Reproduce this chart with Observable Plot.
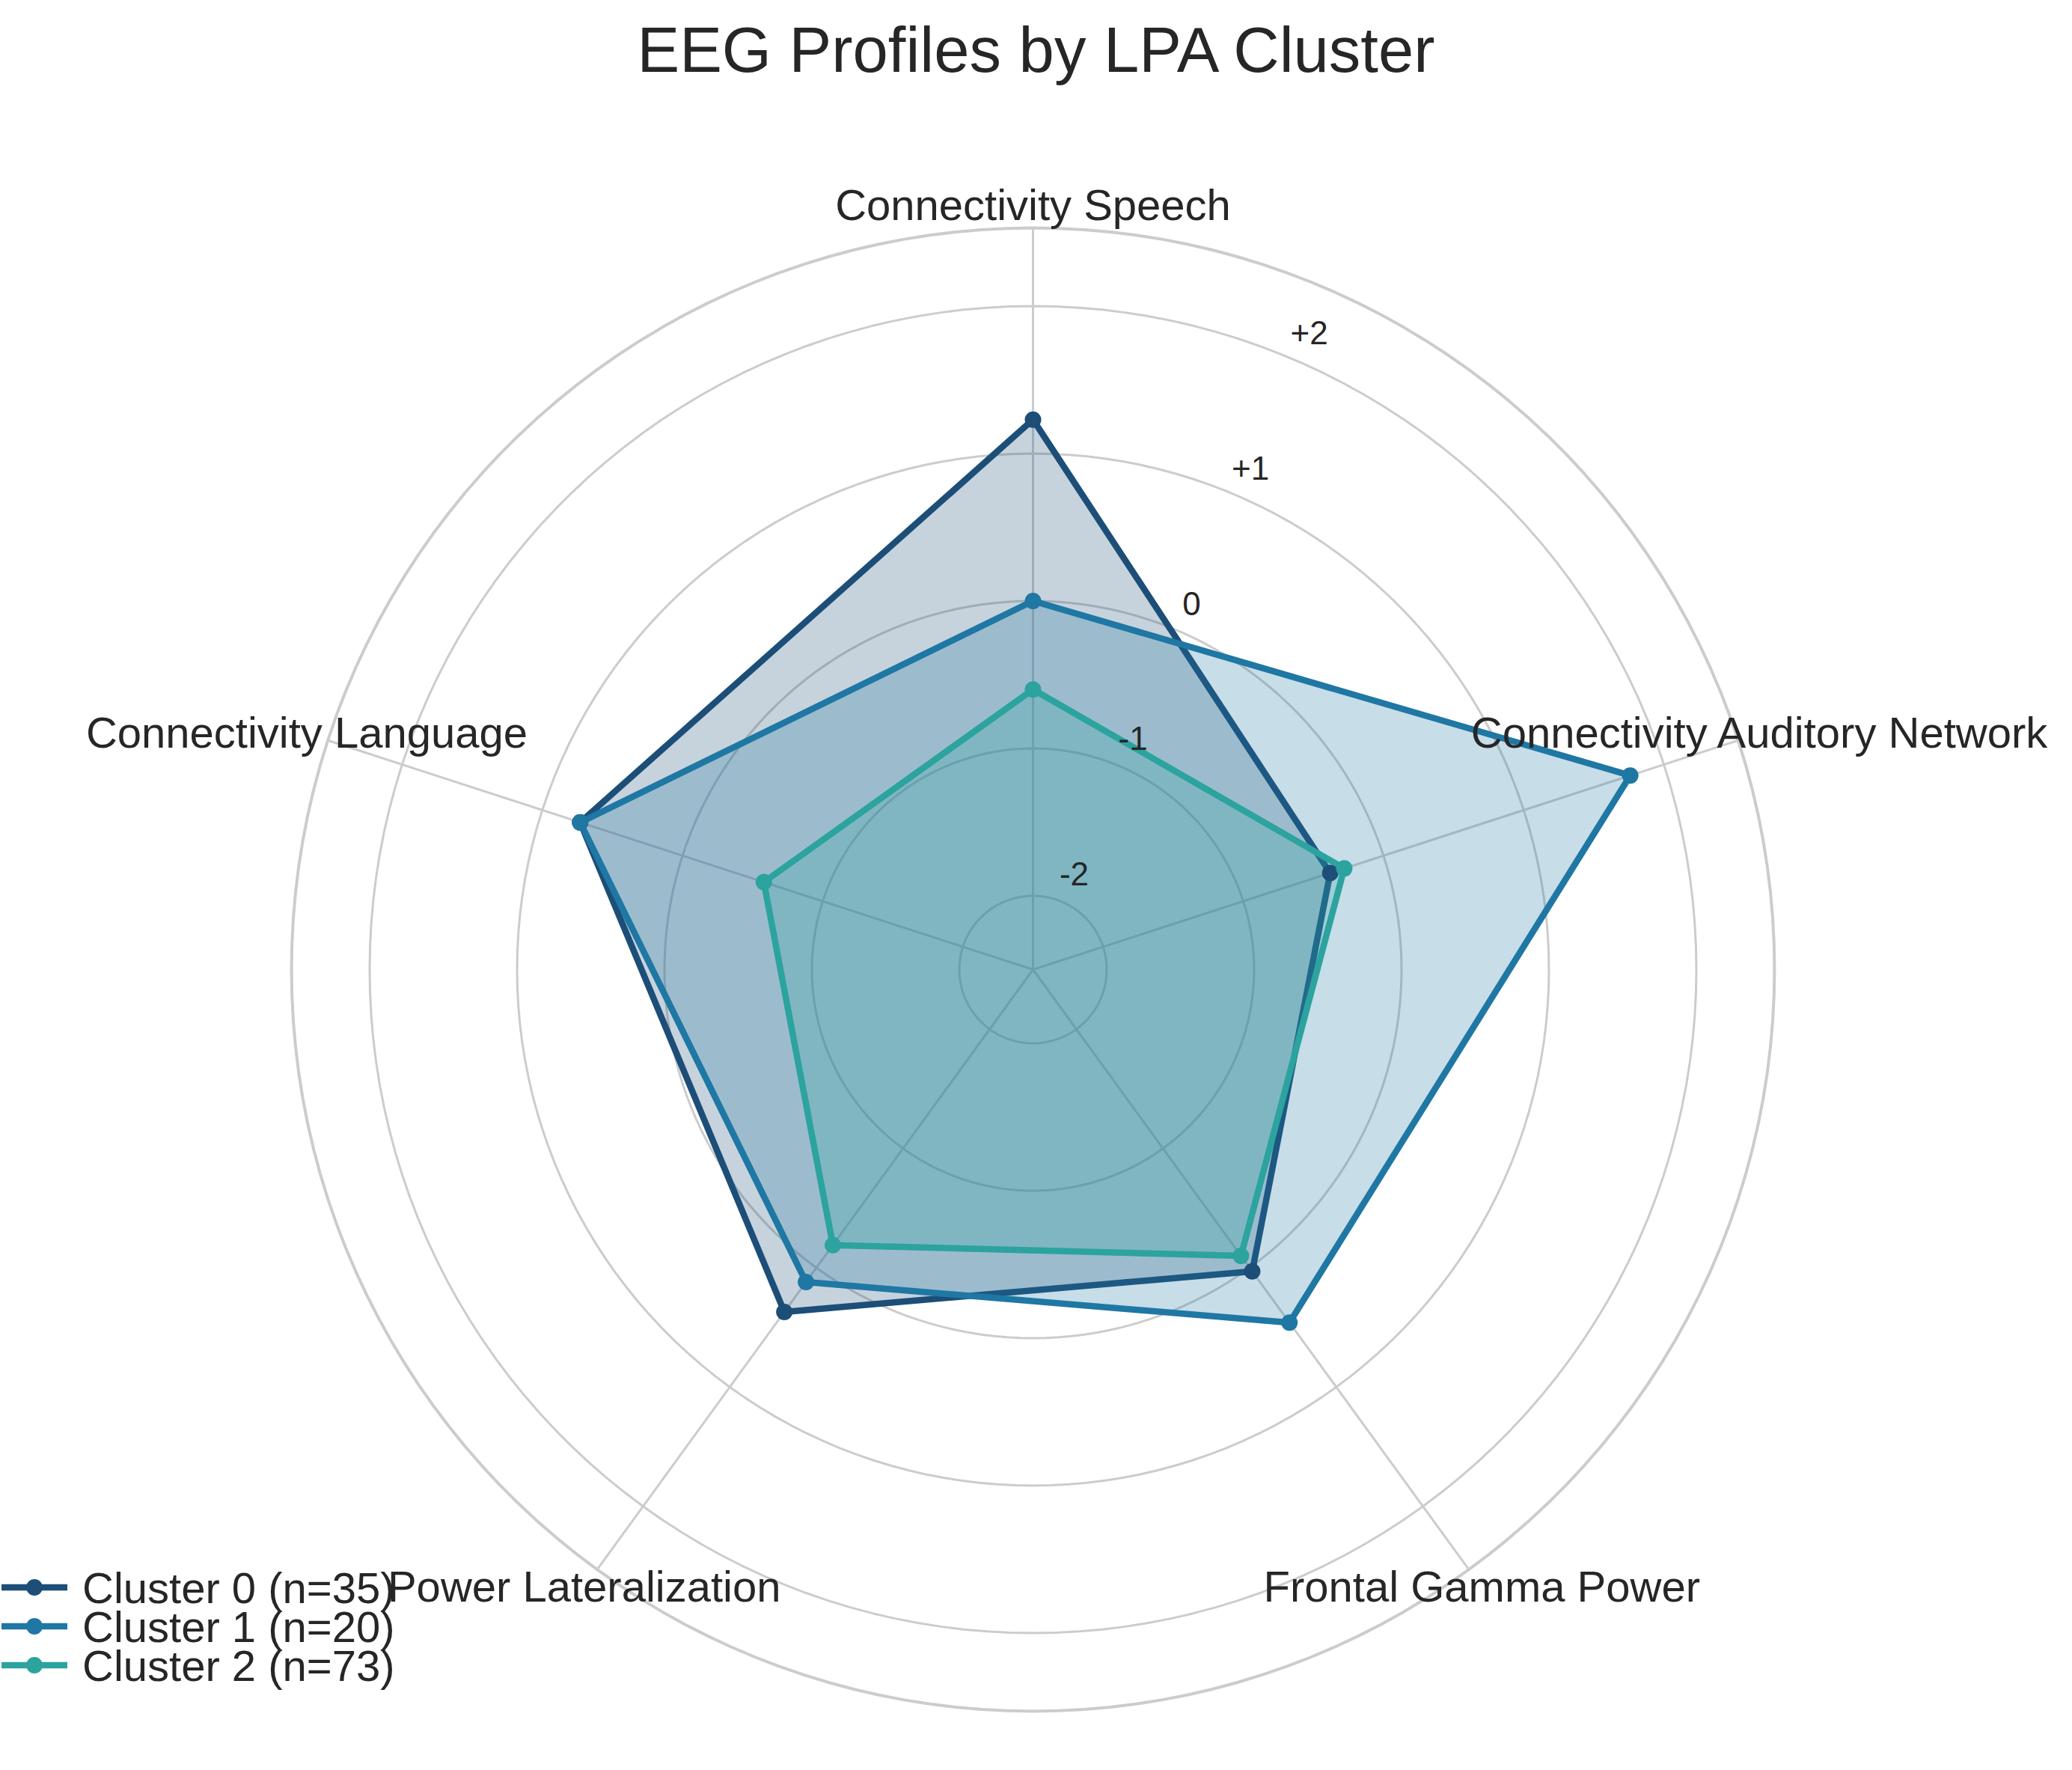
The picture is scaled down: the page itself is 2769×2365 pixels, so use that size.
<!DOCTYPE html>
<html><head><meta charset="utf-8">
<script src="https://cdn.jsdelivr.net/npm/d3@7"></script>
<script src="https://cdn.jsdelivr.net/npm/@observablehq/plot@0.6"></script>
<style>
body{margin:0;background:#fff;font-family:Arial,"Liberation Sans",sans-serif;}
#wrap{position:relative;width:2769px;height:2365px;}
#title{height:130px;text-align:center;font-size:85px;color:#262626;line-height:134px;}
#legend{position:absolute;left:0px;top:2095px;font-size:58px;color:#262626;}
.li{display:flex;align-items:center;height:52px;}
.li svg{margin-right:18px;}
</style></head>
<body><div id="wrap"><div id="title">EEG Profiles by LPA Cluster</div><div id="chart"></div><div id="legend"></div></div>
<script>
const axes = ["Connectivity Speech", "Connectivity Auditory Network", "Frontal Gamma Power", "Power Lateralization", "Connectivity Language"];
const clusters = ["Cluster 0 (n=35)", "Cluster 1 (n=20)", "Cluster 2 (n=73)"];
const colors = ["#1c4e78", "#1f77a4", "#2ca39f"];
const values = [
  [1.23, -0.38, 0.03, 0.37, 0.73],
  [0.0, 1.76, 0.46, 0.12, 0.73],
  [-0.6, -0.28, -0.10, -0.19, -0.58]
];
const ticks = [-2, -1, 0, 1, 2];
const tickLabels = ["-2", "-1", "0", "+1", "+2"];

const rmin = -2.5, rmax = 2.53;
const rad = v => v - rmin;
const pos = (i, v) => {
  const a = i * 2 * Math.PI / axes.length;
  return [rad(v) * Math.sin(a), rad(v) * Math.cos(a)];
};

const pts = [];
values.forEach((s, c) => s.forEach((v, i) => {
  const [x, y] = pos(i, v);
  pts.push({c, x, y});
}));

const rings = [];
[...ticks, rmax].forEach((t, k) => {
  for (let j = 0; j <= 180; j++) {
    const a = j / 180 * 2 * Math.PI;
    rings.push({k, x: rad(t) * Math.sin(a), y: rad(t) * Math.cos(a), outer: k === ticks.length});
  }
});
const spokes = axes.map((d, i) => {
  const [x, y] = pos(i, rmax);
  return {x, y};
});
const labs = axes.map((d, i) => {
  const [x, y] = pos(i, 2.68);
  return {x, y, d};
});
const tlabs = ticks.map((t, k) => {
  const a = 23.5 * Math.PI / 180, r = rad(t) + 0.2;
  return {x: r * Math.sin(a), y: r * Math.cos(a), d: tickLabels[k]};
});

const u = 197, W = 2769, H = 2235, cx = 1380, cy = 1165;
const chart = Plot.plot({
  width: W, height: H, margin: 0,
  x: {domain: [-cx / u, (W - cx) / u], axis: null},
  y: {domain: [-(H - cy) / u, cy / u], axis: null},
  style: {fontFamily: "Arial, 'Liberation Sans', sans-serif"},
  marks: [
    Plot.line(rings, {x: "x", y: "y", z: "k", stroke: "#cccccc", strokeWidth: d => d.outer ? 4 : 3}),
    Plot.link(spokes, {x1: 0, y1: 0, x2: "x", y2: "y", stroke: "#cccccc", strokeWidth: 3}),
    Plot.line(pts, {x: "x", y: "y", z: "c", curve: "linear-closed", fill: d => colors[d.c], fillOpacity: 0.25, stroke: d => colors[d.c], strokeWidth: 8.5}),
    Plot.dot(pts, {x: "x", y: "y", fill: d => colors[d.c], r: 11}),
    Plot.text(tlabs, {x: "x", y: "y", text: "d", fontSize: 44, fill: "#262626"}),
    Plot.text(labs, {x: "x", y: "y", text: "d", fontSize: 58, fill: "#262626"})
  ]
});
document.getElementById("chart").append(chart);

const leg = d3.select("#legend");
clusters.forEach((c, i) => {
  const row = leg.append("div").attr("class", "li");
  const s = row.append("svg").attr("width", 92).attr("height", 24);
  s.append("line").attr("x1", 2).attr("x2", 90).attr("y1", 12).attr("y2", 12).attr("stroke", colors[i]).attr("stroke-width", 8.5);
  s.append("circle").attr("cx", 46).attr("cy", 12).attr("r", 11).attr("fill", colors[i]);
  row.append("span").text(c);
});
</script></body></html>
